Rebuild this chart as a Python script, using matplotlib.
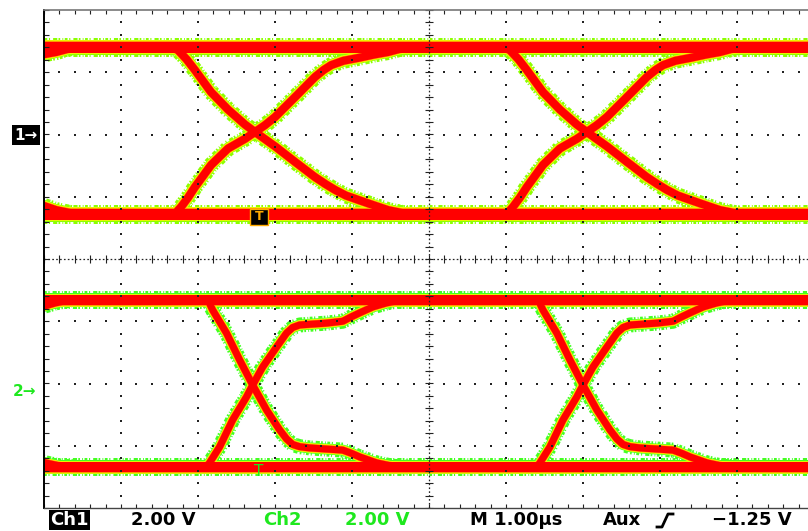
import matplotlib.pyplot as plt
from matplotlib.patches import Rectangle
import numpy as np

plt.rcParams['lines.scale_dashes'] = False
plt.rcParams['font.family'] = ['DejaVu Sans']

W, H = 808, 531

# Channel 1 (2.00 V/div, marker at +2 div)
ch1_high = 2.81
ch1_low = -2.55
ch1_cross_t = [-1.57, 2.74, 7.05]  # crossing times, us from left edge
# edge shapes: time relative to crossing (us), level (V)
ch1_fall_t = [-1.08, -1.0, -0.89, -0.78, -0.57, -0.35, -0.13, 0.0, 0.13, 0.26, 0.52, 0.78, 0.92, 1.04, 1.18, 1.34, 1.55, 1.73, 1.97]
ch1_fall_v = [2.81, 2.71, 2.42, 2.07, 1.36, 0.80, 0.32, 0.08, -0.15, -0.38, -0.88, -1.37, -1.60, -1.78, -1.96, -2.10, -2.28, -2.43, -2.55]
ch1_rise_t = [-1.04, -0.96, -0.87, -0.78, -0.57, -0.35, -0.13, 0.0, 0.13, 0.26, 0.52, 0.78, 0.89, 0.99, 1.15, 1.34, 1.55, 1.73, 1.97]
ch1_rise_v = [-2.55, -2.33, -2.03, -1.69, -0.98, -0.45, -0.14, 0.08, 0.30, 0.56, 1.20, 1.85, 2.07, 2.23, 2.37, 2.46, 2.57, 2.65, 2.81]

# Channel 2 (2.00 V/div, marker at -2 div)
ch2_high = 2.68
ch2_low = -2.68
ch2_cross_t = [-1.59, 2.71, 7.0]
ch2_rise_t = [-0.60, -0.56, -0.43, -0.26, -0.08, 0.0, 0.13, 0.31, 0.44, 0.52, 0.61, 0.96, 1.17, 1.28, 1.39, 1.56, 1.74, 1.93]
ch2_rise_v = [-2.68, -2.55, -2.04, -1.17, -0.43, -0.05, 0.53, 1.17, 1.62, 1.80, 1.88, 1.94, 2.00, 2.14, 2.27, 2.46, 2.59, 2.68]
ch2_fall_t = [-0.58, -0.52, -0.34, -0.17, 0.0, 0.18, 0.35, 0.44, 0.52, 0.61, 0.74, 1.17, 1.28, 1.39, 1.61, 1.82, 2.02]
ch2_fall_v = [2.68, 2.36, 1.62, 0.76, -0.05, -0.85, -1.49, -1.78, -1.96, -2.03, -2.07, -2.14, -2.24, -2.36, -2.55, -2.66, -2.68]

footer = [("2.00 V", 131, 'black'), ("Ch2", 263, '#1ee81e'), ("2.00 V", 345, '#1ee81e'),
          ("M 1.00\u00b5s", 470, 'black'), ("Aux", 603, 'black'), ("\u22121.25 V", 712, 'black')]

PT = 0.72  # points per pixel at dpi 100


def fx(px):
  return px / W


def fy(py):
  return 1 - py / H


fig = plt.figure(figsize=(W / 100, H / 100), dpi=100)
fig.patch.set_facecolor('white')
pos = [44 / W, (H - 508) / H, 770 / W, 498 / H]


def trace_axes(ylim):
  ax = fig.add_axes(pos)
  ax.set_xlim(0, 10)
  ax.set_ylim(*ylim)
  ax.axis('off')
  ax.patch.set_alpha(0)
  return ax


def draw_channel(ax, high, low, cross_t, fall_t, fall_v, rise_t, rise_v, level_px, edge_px, green):
  segs = [([0, 10.2], [high, high], level_px, 'butt'), ([0, 10.2], [low, low], level_px, 'butt')]
  for tc in cross_t:
    segs.append((np.add(fall_t, tc), fall_v, edge_px, 'round'))
    segs.append((np.add(rise_t, tc), rise_v, edge_px, 'round'))
  layers = [(green, 8, (0, (2, 1.2, 0.8, 2.2, 3, 0.9, 1.2, 1.6, 0.6, 1.1)), 1),
            (green, 4, '-', 2),
            ('#ffff00', 2.6, '-', 3),
            ('#ff9900', 1.2, '-', 4),
            ('#ff0000', 0, '-', 5)]
  for col, extra, ls, z in layers:
    for t, v, w, cap in segs:
      ax.plot(t, v, color=col, lw=(w + extra) * PT, ls=ls, solid_capstyle=cap,
              dash_capstyle='butt', solid_joinstyle='round', zorder=z)


ax1 = trace_axes((-12, 4))
draw_channel(ax1, ch1_high, ch1_low, ch1_cross_t, ch1_fall_t, ch1_fall_v,
             ch1_rise_t, ch1_rise_v, 11, 8, '#8cff00')
ax2 = trace_axes((-4, 12))
draw_channel(ax2, ch2_high, ch2_low, ch2_cross_t, ch2_fall_t, ch2_fall_v,
             ch2_rise_t, ch2_rise_v, 10, 7, '#44ff22')

# graticule on top
ax = trace_axes((-4, 4))
gx = np.arange(0, 10.001, 0.2)
gy = np.arange(-4, 4.001, 0.2)
dc = '#222222'
dx, dy = [], []
for y in [-3, -2, -1, 1, 2, 3]:
  dx += list(gx[1:])
  dy += [y] * (len(gx) - 1)
for x in [1, 2, 3, 4, 6, 7, 8, 9]:
  dx += [x] * (len(gy) - 2)
  dy += list(gy[1:-1])
ax.plot(dx, dy, ls='none', marker='s', ms=1.5, mew=0, color=dc, zorder=10)
ax.plot([0, 10], [0, 0], color=dc, lw=0.9, ls=(0, (1.2, 1.6)), zorder=10)
ax.vlines(gx, -0.06, 0.06, color=dc, lw=0.8, zorder=10)
ax.plot([5, 5], [-4, 4], color=dc, lw=0.9, ls=(0, (1.2, 1.6)), zorder=10)
ax.hlines(gy, 4.95, 5.05, color=dc, lw=0.8, zorder=10)
ax.hlines(gy, 0, 0.06, color=dc, lw=0.8, zorder=10)
ax.vlines(gx, 3.93, 4, color=dc, lw=0.8, zorder=10)
ax.vlines(gx, -4, -3.93, color=dc, lw=0.8, zorder=10)
ax.plot([0, 0], [-4, 4], color='black', lw=1.4, clip_on=False, zorder=11)
ax.plot([0, 10], [4, 4], color='#777777', lw=1.2, clip_on=False, zorder=11)
ax.plot([0, 10], [-4, -4], color='#444444', lw=1.0, clip_on=False, zorder=11)

# channel markers
fig.text(fx(14), fy(135), "1\u2192", color='white', weight='bold', fontsize=11,
         va='center', ha='left', bbox=dict(boxstyle='square,pad=0.15', fc='black', ec='none'))
fig.text(fx(13), fy(391), "2\u2192", color='#1ee81e', weight='bold', fontsize=11,
         va='center', ha='left')

# trigger markers
fig.patches.append(Rectangle((fx(250), fy(225)), 18 / W, 16 / H, transform=fig.transFigure,
                             fc='black', ec='#ffaa00', lw=1))
fig.text(fx(259), fy(217), "T", color='#ffaa00', weight='bold', fontsize=9, ha='center', va='center')
fig.text(fx(259), fy(471), "T", color='#1ee81e', fontsize=11, ha='center', va='center')

# footer
fig.text(fx(50), fy(520), "Ch1", color='white', weight='bold', fontsize=13, va='center', ha='left',
         bbox=dict(boxstyle='square,pad=0.08', fc='black', ec='none'))
for txt, x, col in footer:
  fig.text(fx(x), fy(520), txt, color=col, weight='bold', fontsize=13, va='center', ha='left')
fig.lines.append(plt.Line2D([fx(657), fx(662), fx(668), fx(673)], [fy(527), fy(527), fy(514), fy(514)],
                            transform=fig.transFigure, color='black', lw=2))

fig.savefig('out.png', dpi=100, facecolor='white')
